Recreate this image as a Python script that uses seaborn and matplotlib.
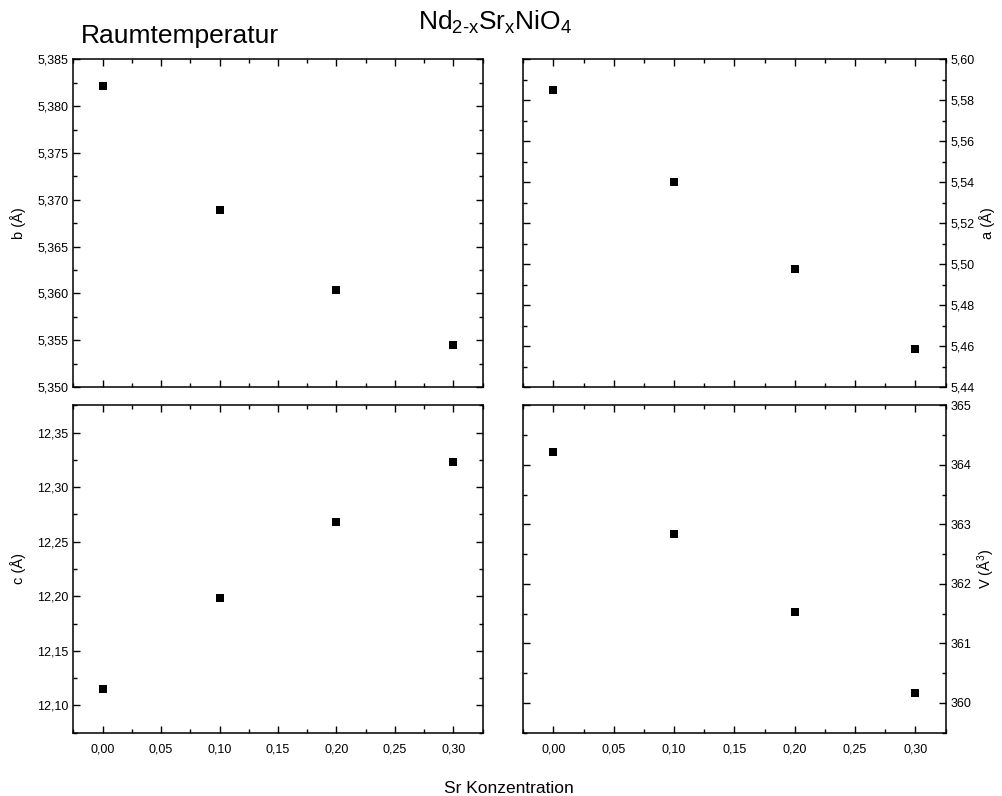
import matplotlib
matplotlib.use("Agg")
import matplotlib.pyplot as plt
import seaborn as sns
import pandas as pd
from matplotlib.ticker import MultipleLocator, FuncFormatter

sns.set_style("ticks")
plt.rcParams['font.family'] = ['Liberation Sans', 'DejaVu Sans']
plt.rcParams['mathtext.fontset'] = 'custom'
plt.rcParams['mathtext.rm'] = 'Liberation Sans'
plt.rcParams['mathtext.it'] = 'Liberation Sans'
plt.rcParams['text.color'] = 'black'
plt.rcParams['axes.labelcolor'] = 'black'
plt.rcParams['xtick.color'] = 'black'
plt.rcParams['ytick.color'] = 'black'

# data
sr_conc = [0.0, 0.1, 0.2, 0.3]
b_vals = [5.3821, 5.3689, 5.3604, 5.3545]
a_vals = [5.5850, 5.5402, 5.4975, 5.4585]
c_vals = [12.115, 12.1985, 12.2685, 12.3235]
v_vals = [364.21, 362.83, 361.53, 360.16]

fig = plt.figure(figsize=(10.02, 7.96), dpi=100)

W, H = 1002.0, 796.0
def rect(l, r, t, b):
    return [l / W, 1 - b / H, (r - l) / W, (b - t) / H]

ax_b = fig.add_axes(rect(73.3, 482.7, 59.3, 387.0))
ax_a = fig.add_axes(rect(523.3, 945.5, 59.3, 387.0))
ax_c = fig.add_axes(rect(73.3, 482.7, 405.3, 732.7))
ax_v = fig.add_axes(rect(523.3, 945.5, 405.3, 732.7))

def comma(dec):
    return FuncFormatter(lambda v, p: f"{v:.{dec}f}".replace('.', ','))

specs = [
    (ax_b, b_vals, "b (Å)", (5.350, 5.385), 0.005, 0.0025, 3, 'left', False),
    (ax_a, a_vals, "a (Å)", (5.44, 5.60), 0.02, 0.01, 2, 'right', False),
    (ax_c, c_vals, "c (Å)", (12.075, 12.375), 0.05, 0.025, 2, 'left', True),
    (ax_v, v_vals, "V (Å$^3$)", (359.5, 365.0), 1.0, 0.5, 0, 'right', True),
]

for ax, vals, lab, ylim, maj, mnr, dec, side, showx in specs:
    df = pd.DataFrame({"x": sr_conc, "y": vals})
    sns.scatterplot(data=df, x="x", y="y", ax=ax, marker='s', color='black',
                    s=32, linewidth=0, legend=False)
    ax.set_xlim(-0.025, 0.325)
    ax.set_ylim(*ylim)
    ax.xaxis.set_major_locator(MultipleLocator(0.05))
    ax.xaxis.set_minor_locator(MultipleLocator(0.025))
    ax.yaxis.set_major_locator(MultipleLocator(maj))
    ax.yaxis.set_minor_locator(MultipleLocator(mnr))
    ax.xaxis.set_major_formatter(comma(2))
    ax.yaxis.set_major_formatter(comma(dec))
    ax.tick_params(which='both', direction='in', top=True, bottom=True,
                   left=True, right=True, width=1.0, colors='black',
                   labelsize=9, labelcolor='black')
    ax.tick_params(which='major', length=5)
    ax.tick_params(which='minor', length=3)
    ax.tick_params(axis='x', labelbottom=showx, pad=8)
    if side == 'right':
        ax.tick_params(axis='y', labelleft=False, labelright=True)
        ax.yaxis.set_label_position('right')
        ax.set_ylabel(lab, fontsize=10.5, rotation=90, labelpad=3)
    else:
        ax.set_ylabel(lab, fontsize=10.5, labelpad=8)
    ax.set_xlabel("")
    for sp in ax.spines.values():
        sp.set_linewidth(1.1)
        sp.set_color('black')

fig.text(81 / W, 1 - 43 / H, "Raumtemperatur", fontsize=19, ha='left', va='baseline')
fig.text(418 / W, 1 - 30 / H, r"Nd$_{2\text{-}x}$Sr$_x$NiO$_4$", fontsize=19,
         ha='left', va='baseline')
fig.text(509 / W, 1 - 793 / H, "Sr Konzentration", fontsize=12.5, ha='center',
         va='baseline')

fig.savefig("out.png", dpi=100)
